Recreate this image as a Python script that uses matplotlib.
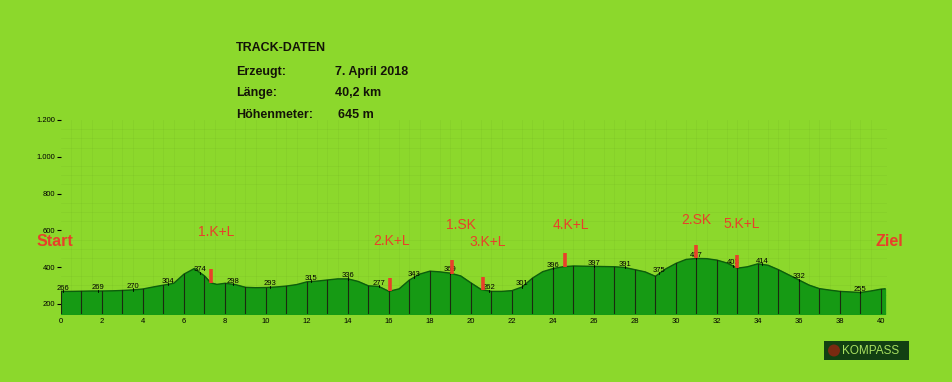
import matplotlib.pyplot as plt
import numpy as np
from matplotlib.patches import Rectangle, Ellipse

# Profile (km, elevation in m)
km = [0, 0.5, 1, 1.5, 2, 2.5, 3, 3.5, 4, 4.5, 5, 5.5, 6, 6.5, 7, 7.3, 7.6, 8, 8.5, 9,
      9.5, 10, 10.5, 11, 11.5, 12, 12.5, 13, 13.5, 14, 14.5, 15, 15.5, 16, 16.5, 17,
      17.5, 18, 18.5, 19, 19.5, 20, 20.5, 21, 21.5, 22, 22.5, 23, 23.5, 24, 24.5, 25,
      25.5, 26, 26.5, 27, 27.5, 28, 28.5, 29, 29.5, 30, 30.5, 31, 31.5, 32, 32.5, 33,
      33.5, 34, 34.5, 35, 35.5, 36, 36.5, 37, 37.5, 38, 38.5, 39, 39.5, 40, 40.2]
elev = [268, 268, 269, 270, 270, 271, 273, 276, 281, 292, 302, 312, 362, 392, 352, 315,
        306, 312, 305, 290, 288, 289, 292, 297, 305, 320, 324, 330, 336, 336, 322, 298,
        295, 268, 282, 330, 362, 378, 374, 367, 352, 314, 278, 268, 268, 272, 292, 340,
        375, 392, 402, 406, 405, 404, 403, 402, 398, 386, 374, 350, 390, 420, 442, 447,
        446, 438, 422, 394, 402, 418, 410, 386, 358, 330, 302, 283, 275, 268, 265, 262,
        270, 280, 282]

# Spot heights
spot_km = [0.1, 1.8, 3.5, 5.2, 6.8, 8.4, 10.2, 12.2, 14.0, 15.5, 17.2, 19.0, 20.9,
           22.5, 24.0, 26.0, 27.5, 29.2, 31.0, 32.8, 34.2, 36.0, 39.0]
spot_val = [266, 269, 270, 304, 374, 298, 293, 315, 336, 277, 343, 369, 262,
            301, 396, 397, 391, 375, 437, 403, 414, 332, 255]

# Checkpoints (red markers)
cp_km = [7.3, 16.05, 19.1, 20.57, 24.6, 31.0, 32.96]
cp_names = ["1.K+L", "2.K+L", "1.SK", "3.K+L", "4.K+L", "2.SK", "5.K+L"]
cp_label_km = [7.56, 16.15, 19.5, 20.8, 24.9, 31.0, 33.2]
cp_label_y = [591, 542, 629, 537, 629, 656, 635]

yticks = [200, 400, 600, 800, 1000, 1200]
ytick_labels = ["200", "400", "600", "800", "1.000", "1.200"]
xticks = list(range(0, 41, 2))

BG = "#8cd82c"
FILL = "#169a14"
RED = "#e8402a"
BASE = 145

fig = plt.figure(figsize=(9.52, 3.82), dpi=100)
fig.patch.set_facecolor(BG)
ax = fig.add_axes([61 / 952, 68 / 382, 826 / 952, 194 / 382])
ax.set_facecolor(BG)
ax.set_xlim(0, 40.3)
ax.set_ylim(BASE, 1200)

km_a = np.array(km)
elev_a = np.array(elev)

# faint paper grid
ax.set_xticks(np.arange(0, 40.5, 0.5), minor=True)
ax.set_yticks(np.arange(150, 1201, 50), minor=True)
ax.grid(which="minor", color="#5f9a1a", alpha=0.12, linewidth=0.6)

ax.fill_between(km_a, BASE, elev_a, color=FILL, zorder=2)
ax.plot(km_a, elev_a, color="#0c5e0c", linewidth=1.0, zorder=3)

# drop lines each km
for k in range(0, 41):
    top = np.interp(k, km_a, elev_a)
    ax.plot([k, k], [BASE, top], color="#1b2a10", linewidth=0.8, zorder=3)

# spot heights
for k, v in zip(spot_km, spot_val):
    p = np.interp(k, km_a, elev_a)
    ax.plot([k, k], [p - 4, p + 8], color="black", linewidth=0.6, zorder=4)
    ax.text(k, p + 18, str(v), fontsize=5.5, ha="center", va="center",
            color="black", family="Liberation Sans", zorder=5)

# checkpoints
for k, name, lk, ly in zip(cp_km, cp_names, cp_label_km, cp_label_y):
    p = np.interp(k, km_a, elev_a)
    ax.plot([k, k], [p, p + 72], color=RED, linewidth=2.6, zorder=6,
            solid_capstyle="butt")
    ax.text(lk, ly, name, fontsize=10, color=RED, ha="center", va="center",
            family="Liberation Sans", clip_on=False)

for s in ax.spines.values():
    s.set_visible(False)
ax.set_yticks(yticks)
ax.set_yticklabels(ytick_labels)
ax.set_xticks(xticks)
ax.set_xticklabels([str(x) for x in xticks])
ax.tick_params(axis="y", which="major", length=3, width=0.8, pad=1,
               labelsize=5.5, colors="black")
ax.tick_params(axis="x", which="major", length=0, pad=3, labelsize=5.5)
ax.tick_params(which="minor", length=0)
for lab in ax.get_xticklabels() + ax.get_yticklabels():
    lab.set_family("Liberation Sans")

# Start / Ziel
fig.text(55 / 952, 1 - 242 / 382, "Start", fontsize=11.5, fontweight="bold",
         color=RED, ha="center", va="center", family="Liberation Sans")
fig.text(889 / 952, 1 - 242 / 382, "Ziel", fontsize=11.5, fontweight="bold",
         color=RED, ha="center", va="center", family="Liberation Sans")

# track data block
tk = dict(fontsize=9, fontweight="bold", color="#141408", va="center",
          family="Liberation Sans")
fig.text(236 / 952, 1 - 48 / 382, "TRACK-DATEN", **tk)
rows = [("Erzeugt:", "7. April 2018", 335, 72), ("Länge:", "40,2 km", 335, 93),
        ("Höhenmeter:", "645 m", 338, 115)]
for a, b, bx, y in rows:
    fig.text(236 / 952, 1 - y / 382, a, **tk)
    fig.text(bx / 952, 1 - y / 382, b, **tk)

# Kompass logo
fig.patches.append(Rectangle((824 / 952, 1 - 360 / 382), 85 / 952, 19 / 382,
                             transform=fig.transFigure, facecolor="#124012",
                             edgecolor="none"))
fig.patches.append(Ellipse((834 / 952, 1 - 350.5 / 382), 12 / 952, 12 / 382,
                           transform=fig.transFigure, facecolor="#7a2a10",
                           edgecolor="none"))
fig.text(842 / 952, 1 - 350.5 / 382, "KOMPASS", fontsize=8.5, color="#a8e060",
         va="center", ha="left", family="Liberation Sans")

fig.savefig("out.png", dpi=100, facecolor=BG)
